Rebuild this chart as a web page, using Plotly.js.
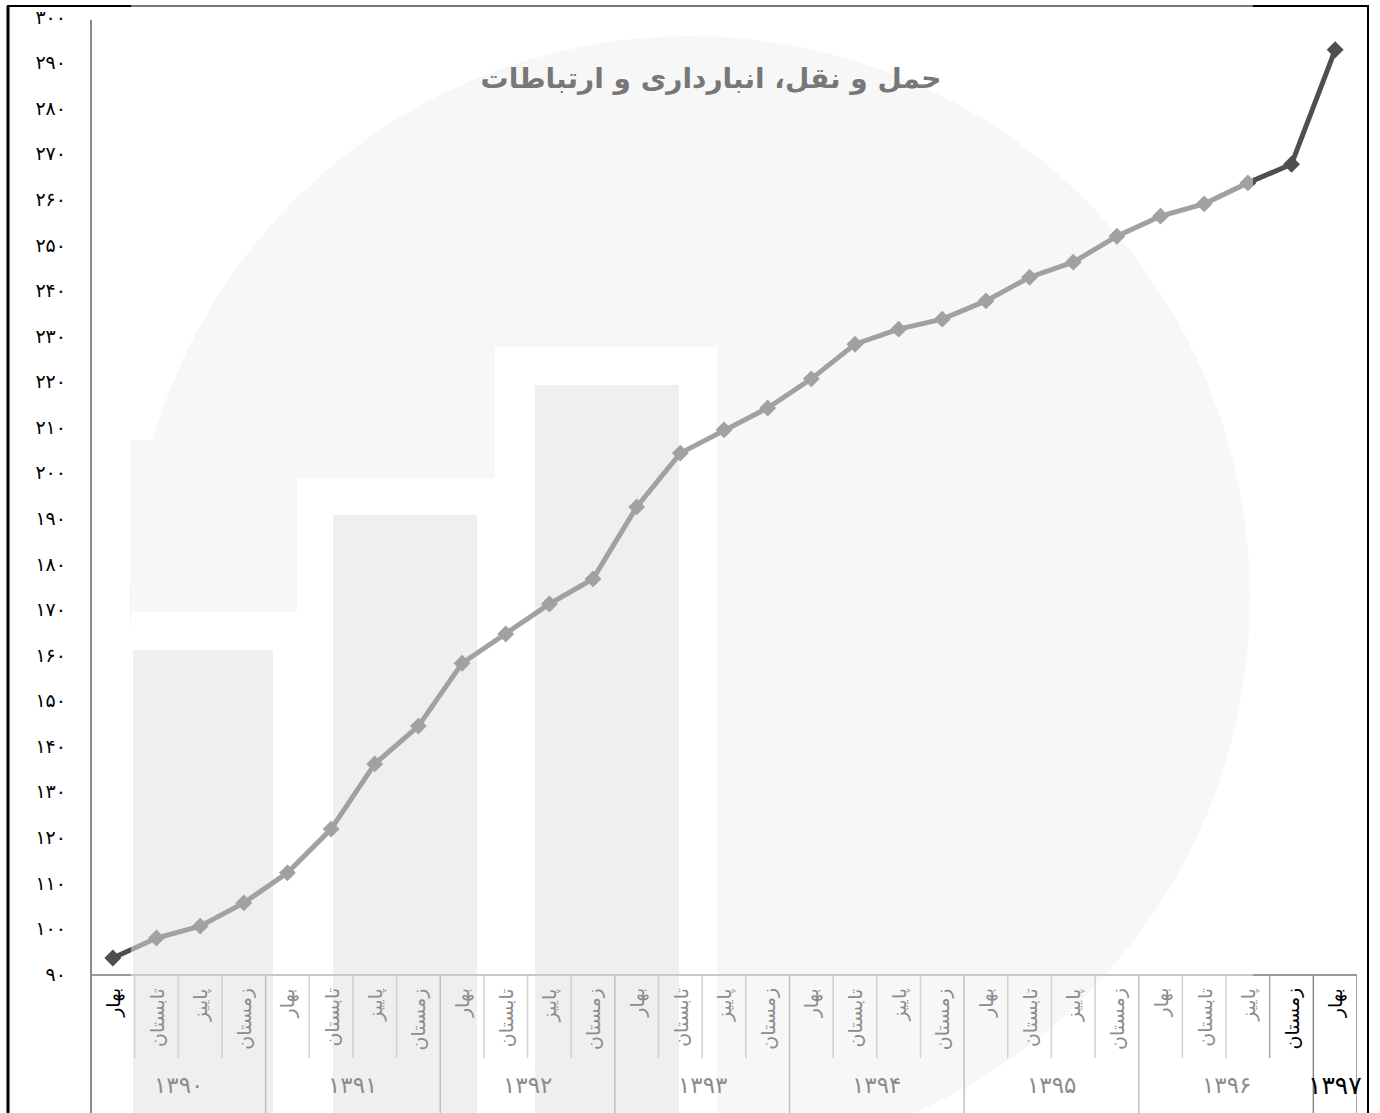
<!DOCTYPE html>
<html>
<head>
<meta charset="utf-8">
<script src="https://cdn.plot.ly/plotly-3.0.1.min.js"></script>
<style>html,body{margin:0;padding:0;background:#fff;}#chart{width:1380px;height:1113px;}</style>
</head>
<body>
<div id="chart"></div>
<script>
// ---- data ----
const seasons = ['بهار','تابستان','پاییز','زمستان','بهار','تابستان','پاییز','زمستان','بهار','تابستان','پاییز','زمستان','بهار','تابستان','پاییز','زمستان','بهار','تابستان','پاییز','زمستان','بهار','تابستان','پاییز','زمستان','بهار','تابستان','پاییز','زمستان','بهار'];
const years = ['۱۳۹۰','۱۳۹۰','۱۳۹۰','۱۳۹۰','۱۳۹۱','۱۳۹۱','۱۳۹۱','۱۳۹۱','۱۳۹۲','۱۳۹۲','۱۳۹۲','۱۳۹۲','۱۳۹۳','۱۳۹۳','۱۳۹۳','۱۳۹۳','۱۳۹۴','۱۳۹۴','۱۳۹۴','۱۳۹۴','۱۳۹۵','۱۳۹۵','۱۳۹۵','۱۳۹۵','۱۳۹۶','۱۳۹۶','۱۳۹۶','۱۳۹۶','۱۳۹۷'];
const values = [93.5, 97.9, 100.5, 105.6, 112.2, 121.8, 136.1, 144.4, 158.2, 164.6, 171.2, 176.7, 192.5, 204.3, 209.4, 214.2, 220.6, 228.2, 231.5, 233.7, 237.7, 242.9, 246.2, 251.9, 256.3, 259.0, 263.6, 267.7, 292.8];
const yTickVals = [90,100,110,120,130,140,150,160,170,180,190,200,210,220,230,240,250,260,270,280,290,300];
const yTickText = ['۹۰','۱۰۰','۱۱۰','۱۲۰','۱۳۰','۱۴۰','۱۵۰','۱۶۰','۱۷۰','۱۸۰','۱۹۰','۲۰۰','۲۱۰','۲۲۰','۲۳۰','۲۴۰','۲۵۰','۲۶۰','۲۷۰','۲۸۰','۲۹۰','۳۰۰'];
const chartTitle = 'حمل و نقل، انبارداری و ارتباطات';

// ---- geometry helpers (layout only) ----
const W = 1380, H = 1113;
const M = {l: 91, r: 23, t: 17, b: 139};
const PW = W - M.l - M.r, PH = H - M.t - M.b;
const px = v => (v - M.l) / PW;          // pixel x -> paper
const py = v => (H - M.b - v) / PH;      // pixel y -> paper
const idx = seasons.map((_, i) => i);
const catPx = i => M.l + (i + 0.5) * PW / seasons.length;
const veilX0 = 131, veilX1 = 1253;
const inVeil = i => catPx(i) > veilX0 && catPx(i) < veilX1;

const shapes = [];
// watermark (drawn below, lightened by the veil)
shapes.push({type:'circle', xref:'paper', yref:'paper', x0:px(130), x1:px(1250), y0:py(1160), y1:py(36), fillcolor:'#f0f0f0', line:{width:0}, layer:'below'});
shapes.push({type:'rect', xref:'paper', yref:'paper', x0:px(131), x1:px(296), y0:py(612), y1:py(440), fillcolor:'#f0f0f0', line:{width:0}, layer:'below'});
[[131,297,612],[297,515,478],[495,717,347]].forEach(h => shapes.push({type:'rect', xref:'paper', yref:'paper', x0:px(h[0]), x1:px(h[1]), y0:py(H+5), y1:py(h[2]), fillcolor:'#ffffff', line:{width:0}, layer:'below'}));
[[133,273,650],[333,477,515],[535,679,385]].forEach(b => shapes.push({type:'rect', xref:'paper', yref:'paper', x0:px(b[0]), x1:px(b[1]), y0:py(H+5), y1:py(b[2]), fillcolor:'#e1e1e1', line:{width:0}, layer:'below'}));
// outer frame
shapes.push({type:'line', xref:'paper', yref:'paper', x0:px(7), x1:px(1369), y0:py(6), y1:py(6), line:{color:'#000', width:2}, layer:'below'});
shapes.push({type:'line', xref:'paper', yref:'paper', x0:px(8), x1:px(8), y0:py(6), y1:py(H+5), line:{color:'#000', width:3}, layer:'below'});
shapes.push({type:'line', xref:'paper', yref:'paper', x0:px(1368), x1:px(1368), y0:py(6), y1:py(H+5), line:{color:'#000', width:2}, layer:'below'});
// y axis line extended through the category table
shapes.push({type:'line', xref:'paper', yref:'paper', x0:0, x1:0, y0:py(H+5), y1:py(20), line:{color:'#8a8a8a', width:2}, layer:'below'});
// category table separators
for (let i = 1; i < seasons.length; i++) {
  const yearBoundary = years[i] !== years[i-1];
  shapes.push({type:'line', xref:'x', yref:'paper', x0:i-0.5, x1:i-0.5, y0: yearBoundary ? py(H+5) : py(1058), y1:0,
    line:{color: yearBoundary ? '#8a8a8a' : '#a8a8a8', width:1.5}, layer:'below'});
}
shapes.push({type:'line', xref:'x', yref:'paper', x0:seasons.length-0.5, x1:seasons.length-0.5, y0:py(H+5), y1:0, line:{color:'#8a8a8a', width:1.5}, layer:'below'});
// translucent veil of the watermark image
shapes.push({type:'rect', xref:'paper', yref:'paper', x0:px(veilX0), x1:px(veilX1), y0:py(H+10), y1:py(-10), fillcolor:'rgba(255,255,255,0.47)', line:{width:0}, layer:'above'});

const annotations = [];
seasons.forEach((s, i) => annotations.push({
  x: i, xref:'x', y: py(986), yref:'paper', text: s, textangle: -90, showarrow:false,
  xanchor:'center', yanchor:'top', font:{family:'DejaVu Sans', size:19, color: inVeil(i) ? '#8c8c8c' : '#000'}
}));
const yearList = [...new Set(years)];
yearList.forEach(y => {
  const members = idx.filter(i => years[i] === y);
  const c = (members[0] + members[members.length-1]) / 2;
  const lone = members.length === 1;
  const veiled = M.l + (c + 0.5) * PW / seasons.length < veilX1;
  annotations.push({x: c, xref:'x', y: py(1085), yref:'paper', text: y, showarrow:false, xanchor:'center', yanchor:'middle',
    font:{family:'DejaVu Sans', size: lone ? 25 : 23, color: veiled ? '#8c8c8c' : '#000'}});
});

const trace = {
  x: idx, y: values, type:'scatter', mode:'lines+markers', cliponaxis:false,
  line:{color:'#4f4f4f', width:5},
  marker:{symbol:'diamond', size:13, color:'#4f4f4f'},
  hoverinfo:'skip'
};

const layout = {
  width: W, height: H,
  margin: M,
  paper_bgcolor:'#ffffff', plot_bgcolor:'rgba(0,0,0,0)',
  showlegend:false,
  title:{text: chartTitle, x: px(711), xref:'paper', xanchor:'center', y: 1 - 78/H, yref:'container', yanchor:'middle',
    font:{family:'DejaVu Sans', size:28, color:'#777777', weight:'bold'}},
  xaxis:{range:[-0.5, seasons.length-0.5], showticklabels:false, ticks:'', showgrid:false, zeroline:false,
    showline:true, linecolor:'#9a9a9a', linewidth:2, fixedrange:true},
  yaxis:{range:[90,300], tickvals:yTickVals, ticktext:yTickText, ticks:'', showgrid:false, zeroline:false, showline:false,
    ticklabelstandoff:24, tickfont:{family:'DejaVu Sans', size:19, color:'#000'}, fixedrange:true},
  shapes: shapes,
  annotations: annotations
};
Plotly.newPlot('chart', [trace], layout, {displayModeBar:false, staticPlot:true});
</script>
</body>
</html>
